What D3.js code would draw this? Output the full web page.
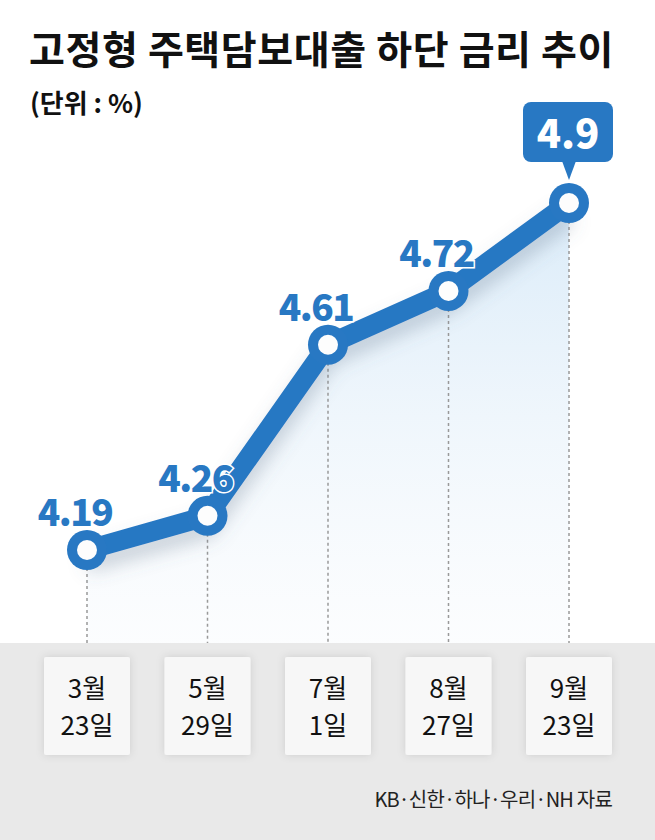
<!DOCTYPE html>
<html><head><meta charset="utf-8">
<script src="https://cdn.jsdelivr.net/npm/d3@7"></script>
<style>body{margin:0;background:#fff}svg{display:block}</style>
</head><body>
<svg id="chart" width="655" height="840"></svg>
<script>
const months = ['3월', '5월', '7월', '8월', '9월']
const days = ['23일', '29일', '1일', '27일', '23일']
const rates = [4.19, 4.26, 4.61, 4.72, 4.9]
const labels = ['4.19', '4.26', '4.61', '4.72', '4.9']

const svg = d3.select('#chart')
const font = "'Noto Sans CJK KR', 'Noto Sans', sans-serif"
const blue = '#2878c3'

const x = d3.scalePoint().domain(d3.range(rates.length)).range([87, 569])
const y = d3.scaleLinear().domain([4.19, 4.9]).range([550, 203])

const defs = svg.append('defs')
const grad = defs.append('linearGradient').attr('id', 'area').attr('x1', 0).attr('y1', 0).attr('x2', 0).attr('y2', 1)
grad.append('stop').attr('offset', '0%').attr('stop-color', '#d6e9f8').attr('stop-opacity', 0.9)
grad.append('stop').attr('offset', '100%').attr('stop-color', '#f4f8fc').attr('stop-opacity', 0.3)
const sh = defs.append('filter').attr('id', 'shadow').attr('x', '-20%').attr('y', '-20%').attr('width', '140%').attr('height', '160%')
sh.append('feDropShadow').attr('dx', 0).attr('dy', 12).attr('stdDeviation', 9).attr('flood-color', '#5a6f86').attr('flood-opacity', 0.3)
const bs = defs.append('filter').attr('id', 'boxshadow').attr('x', '-20%').attr('y', '-20%').attr('width', '140%').attr('height', '140%')
bs.append('feDropShadow').attr('dx', 0).attr('dy', 0).attr('stdDeviation', 4).attr('flood-color', '#000').attr('flood-opacity', 0.12)

// title
svg.append('text').attr('x', 29).attr('y', 64).attr('font-family', font).attr('font-weight', 700)
    .attr('font-size', 39).attr('letter-spacing', 0.6).attr('fill', '#111').text('고정형 주택담보대출 하단 금리 추이')
svg.append('text').attr('x', 30).attr('y', 113).attr('font-family', font).attr('font-weight', 700)
    .attr('font-size', 26).attr('fill', '#111').text('(단위 : %)')

// area under line
const area = d3.area().x((d, i) => x(i)).y0(643).y1(d => y(d))
svg.append('path').datum(rates).attr('d', area).attr('fill', 'url(#area)')

// bottom band
svg.append('rect').attr('x', 0).attr('y', 643).attr('width', 655).attr('height', 197).attr('fill', '#e9e9e9')

// dashed guides
svg.selectAll('.guide').data(rates).enter().append('line')
    .attr('x1', (d, i) => x(i)).attr('x2', (d, i) => x(i))
    .attr('y1', d => y(d)).attr('y2', 643)
    .attr('stroke', '#999').attr('stroke-width', 1.5).attr('stroke-dasharray', '3,3')

// date boxes
const boxes = svg.selectAll('.box').data(rates).enter().append('g')
    .attr('transform', (d, i) => `translate(${x(i) - 43},657)`)
boxes.append('rect').attr('width', 86).attr('height', 98).attr('rx', 2)
    .attr('fill', '#f7f7f7').attr('filter', 'url(#boxshadow)')
boxes.append('text').attr('x', 43).attr('y', 41).attr('text-anchor', 'middle')
    .attr('font-family', font).attr('font-size', 26).attr('fill', '#111').text((d, i) => months[i])
boxes.append('text').attr('x', 43).attr('y', 78).attr('text-anchor', 'middle')
    .attr('font-family', font).attr('font-size', 26).attr('fill', '#111').text((d, i) => days[i])

// line
const line = d3.line().x((d, i) => x(i)).y(d => y(d))
svg.append('path').datum(rates).attr('d', line).attr('fill', 'none')
    .attr('stroke', blue).attr('stroke-width', 20).attr('stroke-linejoin', 'round')
    .attr('filter', 'url(#shadow)')

// points
svg.selectAll('.pt').data(rates).enter().append('circle')
    .attr('cx', (d, i) => x(i)).attr('cy', d => y(d)).attr('r', 20).attr('fill', blue)
svg.selectAll('.pti').data(rates).enter().append('circle')
    .attr('cx', (d, i) => x(i)).attr('cy', d => y(d)).attr('r', 10).attr('fill', '#fdfdfd')

// value labels
const last = rates.length - 1
svg.selectAll('.lbl').data(rates.slice(0, last)).enter().append('text')
    .attr('x', (d, i) => x(i) - 12).attr('y', d => y(d) - 24).attr('text-anchor', 'middle')
    .attr('font-family', font).attr('font-weight', 900).attr('font-size', 37)
    .attr('fill', blue).attr('stroke', '#fff').attr('stroke-width', 3).attr('paint-order', 'stroke')
    .attr('letter-spacing', -1.5).text((d, i) => labels[i])

// highlighted last label
const lx = x(last), ly = y(rates[last])
const tag = svg.append('g').attr('transform', `translate(${lx},${ly})`)
tag.append('rect').attr('x', -46).attr('y', -101).attr('width', 90).attr('height', 60).attr('rx', 8).attr('fill', blue)
tag.append('path').attr('d', 'M-7,-42 L7,-42 L0,-23 Z').attr('fill', blue)
tag.append('text').attr('x', -1).attr('y', -55).attr('text-anchor', 'middle')
    .attr('font-family', font).attr('font-weight', 900).attr('font-size', 40).attr('fill', '#fff')
    .text(labels[last])

// source
svg.append('text').attr('x', 612).attr('y', 807).attr('text-anchor', 'end')
    .attr('font-family', font).attr('font-size', 20).attr('letter-spacing', -0.8).attr('fill', '#222').text('KB·신한·하나·우리·NH 자료')
</script>
</body></html>
